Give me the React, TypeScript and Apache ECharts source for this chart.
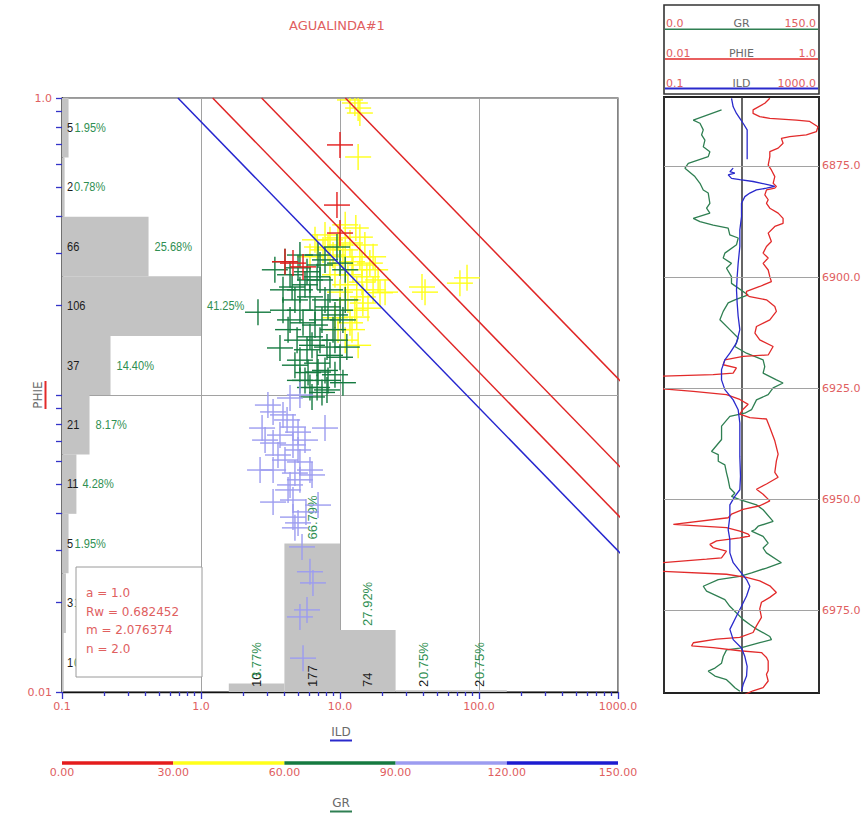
import React, { useEffect, useRef } from "react";
import * as echarts from "echarts";

const WELL_NAME = "AGUALINDA#1";

// Archie parameters used for the Pickett (iso-saturation) lines
const ARCHIE_A = 1.0;
const ARCHIE_RW = 0.682452;
const ARCHIE_M = 2.076374;
const ARCHIE_N = 2.0;
const SW_LINES = [1.0, 0.75, 0.5, 0.25];
const SW_COLORS = ["#2626cf", "#e02626", "#e02626", "#e02626"];

// Curve scales
const ILD_RANGE = [0.1, 1000];
const PHIE_RANGE = [0.01, 1];
const GR_RANGE = [0, 150];
const DEPTH_RANGE = [6859.5, 6993.5];
const DEPTH_MARKS = [6875, 6900, 6925, 6950, 6975];

// PHIE histogram (bins along the PHIE axis)
const PHIE_BIN_EDGES = [1.0, 0.631, 0.398, 0.251, 0.158, 0.1, 0.0631, 0.0398, 0.0251, 0.0158, 0.01];
const PHIE_COUNTS = [5, 2, 66, 106, 37, 21, 11, 5, 3, 1];

// ILD histogram (bins along the ILD axis)
const ILD_BIN_EDGES = [0.1, 0.251, 0.631, 1.585, 3.981, 10, 25.12, 63.1, 158.5, 398.1, 1000];
const ILD_COUNTS = [0, 0, 0, 10, 177, 74, 2, 2, 0, 0];

// GR colour classes
const GR_BREAKS = [0, 30, 60, 90, 120, 150];
const GR_COLORS = ["#e41c1c", "#ffff1a", "#157a40", "#9c9cf0", "#1c1cd0"];

// Cross-plot samples [ILD, PHIE], grouped by GR class
const PTS_GR_0_30: number[][] = [
  [10.0, 0.695], [9.51, 0.436], [10.0, 0.351], [4.59, 0.278], [5.42, 0.27], [4.02, 0.281],
];
const PTS_GR_30_60: number[][] = [
  [11.8, 0.985], [12.8, 0.962], [13.5, 0.925], [13.9, 0.89], [13.5, 0.633],
  [8.47, 0.333], [11.8, 0.325], [13.9, 0.34], [7.55, 0.308], [10.5, 0.292], [13.9, 0.292],
  [16.4, 0.278], [12.4, 0.264], [15.6, 0.25], [17.3, 0.226], [13.2, 0.226], [14.6, 0.204],
  [13.2, 0.183], [11.8, 0.175], [19.4, 0.221], [6.84, 0.315], [6.08, 0.292], [17.3, 0.292],
  [14.6, 0.214], [10.0, 0.32], [9.2, 0.254], [10.9, 0.235], [8.47, 0.274], [11.4, 0.209],
  [12.8, 0.193], [9.68, 0.166], [10.9, 0.153], [21.1, 0.222], [38.9, 0.231], [40.9, 0.222],
  [72.9, 0.238], [82.0, 0.248],
  [7.8, 0.346], [10.9, 0.308], [15.1, 0.32], [8.91, 0.296], [12.2, 0.281], [17.9, 0.264],
  [14.4, 0.24], [10.0, 0.222], [15.9, 0.196], [12.2, 0.166], [8.2, 0.313], [6.61, 0.333],
  [9.68, 0.338], [13.0, 0.365], [10.9, 0.374], [18.8, 0.244], [13.5, 0.147], [9.2, 0.182],
  [14.4, 0.274], [11.4, 0.254],
];
const PTS_GR_60_90: number[][] = [
  [4.99, 0.268], [5.79, 0.26], [7.18, 0.244], [4.52, 0.231], [3.89, 0.193], [6.08, 0.214],
  [8.2, 0.198], [10.0, 0.193], [7.42, 0.179], [10.5, 0.179], [5.42, 0.175], [8.91, 0.166],
  [6.08, 0.157], [3.7, 0.144], [5.79, 0.142], [8.06, 0.145], [11.2, 0.145], [5.15, 0.131],
  [6.84, 0.128], [10.0, 0.134], [5.89, 0.119], [7.8, 0.121], [10.5, 0.11], [6.84, 0.106],
  [8.06, 0.104], [10.0, 0.278], [9.51, 0.315], [6.84, 0.25], [8.47, 0.226], [4.37, 0.254],
  [5.15, 0.226], [6.61, 0.193], [4.74, 0.209], [7.18, 0.153], [9.2, 0.117], [6.29, 0.0985],
  [7.42, 0.102], [5.6, 0.112], [6.95, 0.296], [5.15, 0.296], [4.02, 0.281], [10.9, 0.264],
  [7.8, 0.285],
  [2.57, 0.19], [4.23, 0.166], [4.91, 0.153], [6.29, 0.147], [8.47, 0.136], [6.95, 0.1195],
  [4.74, 0.126], [3.89, 0.226], [5.6, 0.235], [7.8, 0.209], [9.2, 0.186], [5.15, 0.193],
  [6.61, 0.172], [4.37, 0.179], [9.2, 0.153], [5.15, 0.112], [8.2, 0.112], [6.08, 0.106],
  [3.4, 0.264], [10.9, 0.209], [7.18, 0.274], [6.08, 0.244],
];
const PTS_GR_90_120: number[][] = [
  [3.03, 0.0925], [3.3, 0.0877], [4.16, 0.0824], [4.59, 0.078], [7.8, 0.0774], [3.3, 0.0689],
  [4.59, 0.0679], [4.99, 0.0653], [3.3, 0.0559], [4.74, 0.0546], [6.29, 0.0538], [5.15, 0.0518],
  [3.3, 0.0436], [4.59, 0.0443], [6.95, 0.0426], [4.59, 0.0388], [4.99, 0.0371], [4.74, 0.0357],
  [5.33, 0.0308], [6.08, 0.0254], [6.39, 0.0233], [5.15, 0.0179], [5.42, 0.013], [5.15, 0.1],
  [4.37, 0.0977], [2.66, 0.0559], [2.89, 0.0705], [4.02, 0.0604], [6.08, 0.0559], [3.7, 0.0733],
  [4.37, 0.0498], [5.6, 0.0705],
  [2.75, 0.0774], [3.58, 0.0628], [5.15, 0.0595], [4.23, 0.0479], [5.69, 0.0404], [3.89, 0.0857],
  [5.79, 0.0189], [4.99, 0.075],
];

// Log track curves [value, depth]
const GR_CURVE: number[][] = [
  [55.7, 6862.4], [28.3, 6864.7], [34.8, 6865.4], [38.0, 6866.9], [36.4, 6868.0], [39.6, 6869.2],
  [38.0, 6870.7], [44.4, 6871.8], [42.8, 6872.9], [23.5, 6874.4], [20.3, 6875.5], [29.9, 6877.4],
  [34.8, 6878.9], [38.0, 6880.4], [42.8, 6881.1], [44.4, 6883.4], [41.2, 6884.5], [44.4, 6885.6],
  [28.3, 6886.8], [34.8, 6887.5], [47.6, 6888.3], [62.1, 6889.0], [63.7, 6890.5], [71.8, 6891.2],
  [70.2, 6892.7], [58.9, 6894.6], [57.3, 6895.7], [65.3, 6896.9], [60.5, 6898.0], [65.3, 6899.9],
  [65.3, 6901.4], [81.4, 6904.0], [68.6, 6905.1], [62.1, 6905.8], [57.3, 6907.7], [54.1, 6909.6],
  [63.7, 6911.8], [71.8, 6913.7], [68.6, 6915.6], [79.8, 6917.1], [95.9, 6918.6], [97.5, 6920.1],
  [95.9, 6921.6], [108.8, 6923.1], [115.2, 6923.8], [105.6, 6924.9], [100.8, 6926.4], [89.5, 6927.6],
  [84.7, 6929.8], [78.2, 6930.6], [63.7, 6931.3], [55.7, 6933.5], [55.7, 6936.5], [46.0, 6939.2],
  [52.5, 6939.9], [52.5, 6941.4], [58.9, 6942.2], [60.5, 6944.0], [62.1, 6945.5], [63.7, 6947.4],
  [68.6, 6948.6], [65.3, 6949.3], [73.4, 6950.0], [89.5, 6951.2], [95.9, 6952.3], [105.6, 6954.9],
  [91.1, 6956.0], [87.9, 6956.8], [84.7, 6957.1], [95.9, 6958.3], [100.8, 6959.8], [95.9, 6960.9],
  [99.1, 6962.0], [113.6, 6964.2], [99.1, 6965.4], [84.7, 6966.5], [73.4, 6967.3], [52.5, 6968.0],
  [38.0, 6969.5], [41.2, 6970.6], [58.9, 6972.5], [63.7, 6974.0], [76.6, 6977.0], [83.1, 6978.1],
  [87.9, 6978.9], [102.4, 6980.8], [104.0, 6981.5], [92.7, 6982.2], [73.4, 6983.4], [60.5, 6983.8],
  [57.3, 6985.3], [55.7, 6986.8], [49.3, 6987.9], [42.8, 6988.6], [49.3, 6989.7], [60.5, 6990.5],
  [63.7, 6991.2], [68.6, 6992.3], [73.4, 6993.1],
];
const PHIE_CURVE: number[][] = [
  [0.232, 6859.8], [0.2, 6860.9], [0.141, 6862.4], [0.141, 6863.2], [0.172, 6863.9], [0.232, 6864.3],
  [0.511, 6864.7], [0.759, 6865.0], [0.97, 6866.2], [0.925, 6867.3], [0.687, 6868.0], [0.419, 6868.4],
  [0.327, 6868.8], [0.344, 6869.9], [0.297, 6871.0], [0.232, 6871.8], [0.232, 6872.9], [0.221, 6874.8],
  [0.243, 6875.9], [0.269, 6877.4], [0.256, 6878.9], [0.282, 6879.6], [0.269, 6880.0], [0.21, 6880.4],
  [0.2, 6881.5], [0.221, 6882.6], [0.21, 6883.4], [0.232, 6884.5], [0.297, 6885.6], [0.344, 6886.8],
  [0.344, 6887.9], [0.269, 6888.6], [0.221, 6890.1], [0.243, 6892.0], [0.21, 6893.1], [0.19, 6894.6],
  [0.221, 6895.7], [0.19, 6896.9], [0.221, 6898.4], [0.232, 6899.9], [0.243, 6901.0], [0.172, 6902.1],
  [0.116, 6903.2], [0.116, 6904.0], [0.128, 6904.4], [0.21, 6905.1], [0.269, 6906.6], [0.282, 6907.7],
  [0.232, 6909.6], [0.156, 6911.1], [0.149, 6912.6], [0.172, 6914.1], [0.256, 6915.6], [0.221, 6917.5],
  [0.105, 6917.8], [0.061, 6918.6], [0.058, 6919.7], [0.086, 6920.4], [0.078, 6921.6], [0.043, 6921.9],
  [0.005, 6922.4], [0.005, 6924.7], [0.0239, 6925.7], [0.064, 6926.4], [0.095, 6927.5], [0.122, 6928.6],
  [0.105, 6929.7], [0.095, 6930.8], [0.128, 6931.6], [0.21, 6931.9], [0.232, 6933.8], [0.269, 6936.8],
  [0.297, 6939.8], [0.282, 6941.3], [0.269, 6943.9], [0.297, 6945.0], [0.21, 6946.5], [0.156, 6947.7],
  [0.19, 6948.8], [0.232, 6950.3], [0.172, 6951.4], [0.105, 6952.2], [0.0743, 6953.3], [0.0673, 6954.1],
  [0.0132, 6955.6], [0.064, 6956.3], [0.0953, 6957.1], [0.122, 6957.8], [0.128, 6958.2], [0.095, 6958.6],
  [0.0477, 6959.3], [0.0391, 6960.1], [0.043, 6960.8], [0.064, 6961.6], [0.0552, 6963.1], [0.0354, 6963.4],
  [0.005, 6964.6], [0.005, 6965.9], [0.064, 6966.8], [0.116, 6967.5], [0.172, 6968.3], [0.232, 6969.4],
  [0.282, 6970.9], [0.232, 6972.0], [0.181, 6973.1], [0.172, 6974.6], [0.181, 6976.5], [0.156, 6978.4],
  [0.141, 6979.9], [0.095, 6981.0], [0.0477, 6981.4], [0.0239, 6982.2], [0.0227, 6982.9], [0.043, 6983.3],
  [0.095, 6984.0], [0.181, 6984.4], [0.21, 6985.5], [0.221, 6986.3], [0.221, 6988.5], [0.21, 6989.3],
  [0.221, 6990.8], [0.19, 6992.3], [0.141, 6993.0], [0.105, 6994.0],
];
const ILD_CURVE: (number | string)[][] = [
  [5.53, 6859.8], [6.1, 6861.7], [7.43, 6863.2], [9.06, 6864.3], [11.0, 6865.4], [14.0, 6866.9],
  [14.0, 6869.2], [14.0, 6873.5], ["-", "-"], [6.1, 6875.5], [5.01, 6876.3], [6.73, 6876.6],
  [4.54, 6877.0], [5.53, 6877.8], [9.06, 6878.1], [19.9, 6878.5], [53.7, 6879.3], [72.1, 6879.6],
  [44.1, 6880.0], [24.3, 6880.4], [16.4, 6881.1], [12.2, 6881.9], [10.0, 6883.4], [10.0, 6886.4],
  [9.06, 6889.4], [9.06, 6893.1], [8.2, 6896.9], [7.73, 6899.9], [7.43, 6902.9], [7.73, 6905.8],
  [8.2, 6908.8], [9.06, 6911.8], [7.43, 6914.8], [5.01, 6917.1], [3.72, 6918.6], [3.05, 6920.8],
  [3.05, 6923.1], [3.72, 6925.3], [6.1, 6927.6], [8.2, 6929.8], [9.06, 6932.8], [9.06, 6936.5],
  [9.06, 6940.3], [9.42, 6944.8], [9.06, 6947.8], [6.73, 6949.3], [5.01, 6951.2], [5.01, 6953.8],
  [4.54, 6956.8], [5.01, 6959.0], [5.01, 6962.0], [6.1, 6964.2], [9.06, 6966.1], [13.5, 6968.0],
  [16.4, 6969.5], [13.5, 6971.7], [10.0, 6974.0], [7.43, 6976.2], [5.01, 6979.2], [6.1, 6981.5],
  [10.0, 6983.4], [12.2, 6985.3], [14.0, 6987.5], [13.5, 6989.7], [11.0, 6991.6], [10.0, 6993.1],
];

// Styling
const LABEL_RED = "#e0605f";
const NAME_GRAY = "#6a6a6a";
const GRID_GRAY = "#a2a2a2";
const TICK_BLUE = "#3434c8";
const HIST_GRAY = "#c3c3c3";
const PCT_GREEN = "#2f8f52";
const GR_CURVE_COLOR = "#2f7f52";
const PHIE_CURVE_COLOR = "#e22a2a";
const ILD_CURVE_COLOR = "#2a2acc";
const WIDE_FONT = "DejaVu Sans";
const HIST_SPAN = 0.25; // the largest bin spans a quarter of the axis
const CROSS_HALF = 13;

const MAIN_GRID = { left: 62, top: 98, width: 556, height: 594 };
const BAR_GRID = { left: 62, top: 761, width: 556, height: 4 };
const TRACK_GRID = { left: 664, top: 97, width: 155, height: 596 };

const clean = (v: number) => Number(Number(v).toPrecision(6));
const fmtScale = (raw: number) => {
  const v = clean(raw);
  return v > 0 && v < 0.1 ? v.toFixed(2) : v.toFixed(1);
};

function minorTicks(fromExp: number, toExp: number): number[] {
  const out: number[] = [];
  for (let e = fromExp; e < toExp; e++) {
    for (let k = 2; k <= 9; k++) out.push(clean(k * Math.pow(10, e)));
  }
  return out;
}

const sum = (a: number[]) => a.reduce((s, v) => s + v, 0);
const phieTotal = sum(PHIE_COUNTS);
const phieMax = Math.max(...PHIE_COUNTS);
const ildTotal = sum(ILD_COUNTS);
const ildMax = Math.max(...ILD_COUNTS);

function txt(text: string, fill: string, font: string, align = "left", vAlign = "middle") {
  return { text, fill, font, align, verticalAlign: vAlign, textAlign: align, textVerticalAlign: vAlign };
}

function renderPhieHist(_p: any, api: any) {
  const top = api.value(0);
  const bottom = api.value(1);
  const count = api.value(2);
  const a = api.coord([ILD_RANGE[0], top]);
  const b = api.coord([ILD_RANGE[0], bottom]);
  const xFar = api.coord([ILD_RANGE[1], top])[0];
  const w = (count / phieMax) * (xFar - a[0]) * HIST_SPAN;
  const cy = (a[1] + b[1]) / 2;
  const pct = ((count / phieTotal) * 100).toFixed(2) + "%";
  const font = '13px "Liberation Sans"';
  return {
    type: "group",
    children: [
      { type: "rect", shape: { x: a[0], y: a[1], width: w, height: b[1] - a[1] }, style: { fill: HIST_GRAY } },
      { type: "text", x: a[0] + 5, y: cy, scaleX: 0.85, style: txt(String(count), "#1c1c1c", font) },
      { type: "text", x: Math.max(a[0] + w + 6, a[0] + 12), y: cy, scaleX: 0.85, style: txt(pct, PCT_GREEN, font) },
    ],
  };
}

function renderIldHist(_p: any, api: any) {
  const lo = api.value(0);
  const hi = api.value(1);
  const count = api.value(2);
  if (!count) return { type: "group", children: [] };
  const a = api.coord([lo, PHIE_RANGE[0]]);
  const b = api.coord([hi, PHIE_RANGE[0]]);
  const yFar = api.coord([lo, PHIE_RANGE[1]])[1];
  const h = (count / ildMax) * (a[1] - yFar) * HIST_SPAN;
  const cx = (a[0] + b[0]) / 2;
  const pct = ((count / ildTotal) * 100).toFixed(2) + "%";
  const font = '13px "Liberation Sans"';
  return {
    type: "group",
    children: [
      { type: "rect", shape: { x: a[0], y: a[1] - h, width: b[0] - a[0], height: h }, style: { fill: HIST_GRAY } },
      { type: "text", x: cx, y: a[1] - 5, rotation: Math.PI / 2, style: txt(String(count), "#1c1c1c", font) },
      {
        type: "text",
        x: cx,
        y: Math.min(a[1] - h - 4, a[1] - 13),
        rotation: Math.PI / 2,
        style: txt(pct, PCT_GREEN, font),
      },
    ],
  };
}

const crossRenderer = (color: string) => (_p: any, api: any) => {
  const p = api.coord([api.value(0), api.value(1)]);
  const style = { stroke: color, lineWidth: 1.4 };
  return {
    type: "group",
    children: [
      { type: "line", shape: { x1: p[0] - CROSS_HALF, y1: p[1], x2: p[0] + CROSS_HALF, y2: p[1] }, style },
      { type: "line", shape: { x1: p[0], y1: p[1] - CROSS_HALF, x2: p[0], y2: p[1] + CROSS_HALF }, style },
    ],
  };
};

function renderColorBar(_p: any, api: any) {
  const a = api.coord([api.value(0), 0.5]);
  const b = api.coord([api.value(1), 0.5]);
  return {
    type: "rect",
    shape: { x: a[0], y: a[1] - 1.75, width: b[0] - a[0], height: 3.5 },
    style: { fill: GR_COLORS[api.value(2)] },
  };
}

function pickettLine(sw: number): number[][] {
  const rt = (phi: number) => (ARCHIE_A * ARCHIE_RW) / (Math.pow(phi, ARCHIE_M) * Math.pow(sw, ARCHIE_N));
  return [
    [rt(PHIE_RANGE[1]), PHIE_RANGE[1]],
    [rt(PHIE_RANGE[0]), PHIE_RANGE[0]],
  ];
}

function buildOption(): any {
  const crossGroups: [number[][], string][] = [
    [PTS_GR_30_60, GR_COLORS[1]],
    [PTS_GR_60_90, GR_COLORS[2]],
    [PTS_GR_90_120, GR_COLORS[3]],
    [PTS_GR_0_30, GR_COLORS[0]],
  ];

  const headerCurves = [
    { name: "GR", range: GR_RANGE, color: GR_CURVE_COLOR, width: 1.5 },
    { name: "PHIE", range: PHIE_RANGE, color: PHIE_CURVE_COLOR, width: 1.5 },
    { name: "ILD", range: ILD_RANGE, color: ILD_CURVE_COLOR, width: 2.2 },
  ];
  const hdrLeft = TRACK_GRID.left;
  const hdrRight = TRACK_GRID.left + TRACK_GRID.width;
  const hdrMid = (hdrLeft + hdrRight) / 2;
  const smallFont = `11px "${WIDE_FONT}"`;

  const headerElements: any[] = [
    {
      type: "rect",
      z: 100,
      shape: { x: hdrLeft, y: 5, width: TRACK_GRID.width, height: 89 },
      style: { fill: "#fff", stroke: "#333", lineWidth: 1.6 },
    },
  ];
  headerCurves.forEach((c, k) => {
    const ty = 23 + 30 * k;
    const ly = 29.3 + 29.6 * k;
    headerElements.push(
      { type: "text", z: 101, x: hdrLeft + 2, y: ty, style: txt(fmtScale(c.range[0]), LABEL_RED, smallFont, "left") },
      { type: "text", z: 101, x: hdrMid, y: ty, style: txt(c.name, NAME_GRAY, smallFont, "center") },
      { type: "text", z: 101, x: hdrRight - 3, y: ty, style: txt(fmtScale(c.range[1]), LABEL_RED, smallFont, "right") },
      {
        type: "line",
        z: 101,
        shape: { x1: hdrLeft + 1, y1: ly, x2: hdrRight - 1, y2: ly },
        style: { stroke: c.color, lineWidth: c.width },
      }
    );
  });

  const paramFont = `12px "${WIDE_FONT}"`;
  const paramLines = [
    `a = ${ARCHIE_A.toFixed(1)}`,
    `Rw = ${ARCHIE_RW.toFixed(6)}`,
    `m = ${ARCHIE_M.toFixed(6)}`,
    `n = ${ARCHIE_N.toFixed(1)}`,
  ];
  const paramBox: any[] = [
    { type: "rect", z: 100, shape: { x: 76, y: 567, width: 126, height: 110 }, style: { fill: "#fff", stroke: "#9a9a9a", lineWidth: 1 } },
    ...paramLines.map((t, i) => ({ type: "text", z: 101, x: 86, y: 593 + i * 18.6, style: txt(t, LABEL_RED, paramFont) })),
  ];

  const nameFont = `12px "${WIDE_FONT}"`;
  const titles: any[] = [
    { type: "text", z: 100, x: 337, y: 25, style: txt(WELL_NAME, LABEL_RED, `13px "${WIDE_FONT}"`, "center") },
    { type: "text", z: 100, x: 341, y: 731.5, style: txt("ILD", NAME_GRAY, nameFont, "center") },
    { type: "line", z: 100, shape: { x1: 330, y1: 740.5, x2: 352, y2: 740.5 }, style: { stroke: ILD_CURVE_COLOR, lineWidth: 2 } },
    { type: "text", z: 100, x: 341, y: 803, style: txt("GR", NAME_GRAY, nameFont, "center") },
    { type: "line", z: 100, shape: { x1: 330, y1: 811.5, x2: 352, y2: 811.5 }, style: { stroke: GR_CURVE_COLOR, lineWidth: 2 } },
    { type: "text", z: 100, x: 37.5, y: 395, rotation: Math.PI / 2, style: txt("PHIE", NAME_GRAY, nameFont, "center") },
    { type: "line", z: 100, shape: { x1: 45.5, y1: 381, x2: 45.5, y2: 409 }, style: { stroke: PHIE_CURVE_COLOR, lineWidth: 2 } },
  ];

  const axisLabelBase = { color: LABEL_RED, fontFamily: WIDE_FONT, fontSize: 11 };

  return {
    animation: false,
    backgroundColor: "#ffffff",
    grid: [
      { ...MAIN_GRID, show: true, borderColor: "#333", borderWidth: 1.2, containLabel: false },
      { ...BAR_GRID, show: false },
      { ...TRACK_GRID, show: true, borderColor: "#222", borderWidth: 2 },
    ],
    xAxis: [
      {
        gridIndex: 0,
        type: "log",
        logBase: 10,
        min: ILD_RANGE[0],
        max: ILD_RANGE[1],
        position: "bottom",
        axisLine: { show: true, onZero: false, lineStyle: { color: "#111", width: 1.3 } },
        axisTick: { show: true, length: 7, lineStyle: { color: TICK_BLUE, width: 1.3 } },
        axisLabel: { ...axisLabelBase, margin: 9, formatter: (v: number) => fmtScale(v) },
        splitLine: { show: true, lineStyle: { color: GRID_GRAY, width: 1 } },
      },
      {
        gridIndex: 0,
        type: "log",
        logBase: 10,
        min: ILD_RANGE[0],
        max: ILD_RANGE[1],
        position: "bottom",
        axisLine: { show: false },
        axisLabel: { show: false },
        splitLine: { show: false },
        axisTick: { show: true, length: 4, customValues: minorTicks(-1, 3), lineStyle: { color: TICK_BLUE, width: 1.3 } },
      },
      {
        gridIndex: 1,
        type: "value",
        min: GR_RANGE[0],
        max: GR_RANGE[1],
        interval: 30,
        axisLine: { show: false },
        axisTick: { show: false },
        splitLine: { show: false },
        axisLabel: { ...axisLabelBase, margin: 2, formatter: (v: number) => Number(v).toFixed(2) },
      },
      {
        gridIndex: 2,
        type: "value",
        min: GR_RANGE[0],
        max: GR_RANGE[1],
        interval: 75,
        position: "top",
        axisLine: { show: false },
        axisTick: { show: false },
        axisLabel: { show: false },
        splitLine: { show: true, lineStyle: { color: "#333", width: 1.5 } },
      },
      { gridIndex: 2, type: "log", logBase: 10, min: PHIE_RANGE[0], max: PHIE_RANGE[1], show: false },
      { gridIndex: 2, type: "log", logBase: 10, min: ILD_RANGE[0], max: ILD_RANGE[1], show: false },
    ],
    yAxis: [
      {
        gridIndex: 0,
        type: "log",
        logBase: 10,
        min: PHIE_RANGE[0],
        max: PHIE_RANGE[1],
        position: "left",
        axisLine: { show: true, onZero: false, lineStyle: { color: "#111", width: 1.3 } },
        axisTick: { show: true, length: 6, lineStyle: { color: TICK_BLUE, width: 1.3 } },
        axisLabel: {
          ...axisLabelBase,
          margin: 10,
          customValues: [PHIE_RANGE[0], PHIE_RANGE[1]],
          formatter: (raw: number) => {
            const v = clean(raw);
            return v === PHIE_RANGE[0] || v === PHIE_RANGE[1] ? fmtScale(v) : "";
          },
        },
        splitLine: { show: true, lineStyle: { color: GRID_GRAY, width: 1 } },
      },
      {
        gridIndex: 0,
        type: "log",
        logBase: 10,
        min: PHIE_RANGE[0],
        max: PHIE_RANGE[1],
        position: "left",
        axisLine: { show: false },
        axisLabel: { show: false },
        splitLine: { show: false },
        axisTick: { show: true, length: 6, customValues: minorTicks(-2, 0), lineStyle: { color: TICK_BLUE, width: 1.3 } },
      },
      { gridIndex: 1, type: "value", min: 0, max: 1, show: false },
      { gridIndex: 2, type: "value", inverse: true, min: DEPTH_RANGE[0], max: DEPTH_RANGE[1], show: false },
    ],
    series: [
      {
        type: "custom",
        name: "PHIE histogram",
        xAxisIndex: 0,
        yAxisIndex: 0,
        silent: true,
        z: 2,
        data: PHIE_COUNTS.map((c, i) => [PHIE_BIN_EDGES[i], PHIE_BIN_EDGES[i + 1], c]),
        renderItem: renderPhieHist,
      },
      {
        type: "custom",
        name: "ILD histogram",
        xAxisIndex: 0,
        yAxisIndex: 0,
        silent: true,
        z: 2,
        data: ILD_COUNTS.map((c, i) => [ILD_BIN_EDGES[i], ILD_BIN_EDGES[i + 1], c]),
        renderItem: renderIldHist,
      },
      ...crossGroups.map(([pts, color]) => ({
        type: "custom",
        xAxisIndex: 0,
        yAxisIndex: 0,
        silent: true,
        clip: true,
        z: 3,
        data: pts,
        renderItem: crossRenderer(color),
      })),
      ...SW_LINES.map((sw, k) => ({
        type: "line",
        name: `Sw ${sw}`,
        xAxisIndex: 0,
        yAxisIndex: 0,
        data: pickettLine(sw),
        symbol: "none",
        clip: true,
        silent: true,
        z: 4,
        lineStyle: { color: SW_COLORS[k], width: 1.5 },
      })),
      {
        type: "custom",
        name: "GR colour scale",
        xAxisIndex: 2,
        yAxisIndex: 2,
        silent: true,
        data: GR_COLORS.map((_, i) => [GR_BREAKS[i], GR_BREAKS[i + 1], i]),
        renderItem: renderColorBar,
      },
      {
        type: "line",
        name: "GR",
        xAxisIndex: 3,
        yAxisIndex: 3,
        data: GR_CURVE,
        symbol: "none",
        clip: true,
        silent: true,
        lineStyle: { color: GR_CURVE_COLOR, width: 1.3 },
        markLine: {
          silent: true,
          symbol: ["none", "none"],
          animation: false,
          lineStyle: { color: GRID_GRAY, width: 1, type: "solid" },
          label: {
            show: true,
            position: "end",
            distance: 3,
            color: LABEL_RED,
            fontFamily: WIDE_FONT,
            fontSize: 11,
            formatter: (p: any) => Number(p.value).toFixed(1),
          },
          data: DEPTH_MARKS.map((d) => ({ yAxis: d })),
        },
      },
      {
        type: "line",
        name: "PHIE",
        xAxisIndex: 4,
        yAxisIndex: 3,
        data: PHIE_CURVE,
        symbol: "none",
        clip: true,
        silent: true,
        lineStyle: { color: PHIE_CURVE_COLOR, width: 1.3 },
      },
      {
        type: "line",
        name: "ILD",
        xAxisIndex: 5,
        yAxisIndex: 3,
        data: ILD_CURVE,
        symbol: "none",
        clip: true,
        silent: true,
        connectNulls: false,
        lineStyle: { color: ILD_CURVE_COLOR, width: 1.3 },
      },
    ],
    graphic: [...titles, ...paramBox, ...headerElements],
  };
}

export default function App() {
  const ref = useRef<HTMLDivElement>(null);
  useEffect(() => {
    if (!ref.current) return;
    const chart = echarts.init(ref.current, undefined, { renderer: "svg" });
    chart.setOption(buildOption());
    return () => chart.dispose();
  }, []);
  return (
    <div
      ref={ref}
      style={{ position: "absolute", left: 0, top: 0, width: 866, height: 813, background: "#fff" }}
    />
  );
}
